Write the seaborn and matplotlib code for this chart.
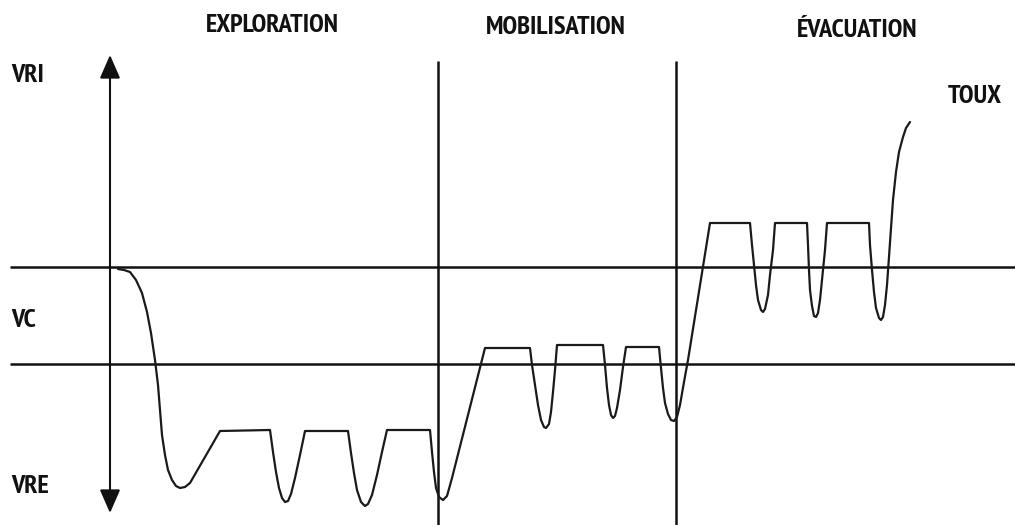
import matplotlib
matplotlib.use("Agg")
import matplotlib.pyplot as plt
import seaborn as sns
import pandas as pd

# ---- data (diagram coordinates, y grows downward) ----
curve_x = [118, 124, 130, 136, 142, 147, 151, 155, 158, 160, 162, 165, 168, 172, 176, 180, 185, 190, 220,
           270, 273, 276, 279, 282, 285, 288, 291, 295, 300, 305,
           348, 351, 354, 357, 361, 365, 368, 372, 377, 382, 387,
           430, 432, 434, 436, 439, 443, 447, 452, 485,
           530, 532, 535, 538, 541, 544, 546, 549, 551, 553, 555, 557,
           603, 605, 607, 609, 611, 613, 615, 617, 620, 623, 626,
           659, 661, 663, 665, 668, 671, 674, 677, 680, 684, 688, 710,
           750, 752, 754, 756, 758, 761, 763, 765, 768, 770, 773, 775,
           807, 808, 809, 810, 812, 814, 816, 818, 820, 822, 825, 827,
           869, 870, 872, 874, 876, 879, 881, 883, 885, 887, 889, 891, 893, 896, 899, 903, 906, 910]
curve_y = [269, 270, 272, 280, 293, 312, 333, 360, 385, 410, 435, 455, 470, 480, 486, 488, 487, 483, 431,
           430, 452, 472, 488, 498, 502, 501, 494, 478, 455, 431,
           431, 453, 473, 490, 502, 506, 504, 495, 475, 452, 430,
           430, 452, 472, 488, 497, 500, 496, 478, 348,
           348, 365, 385, 405, 420, 427, 428, 424, 412, 392, 370, 345,
           345, 365, 388, 405, 415, 418, 416, 408, 390, 367, 347,
           347, 368, 388, 403, 414, 420, 421, 417, 405, 382, 360, 223,
           223, 245, 265, 285, 300, 310, 312, 309, 295, 275, 250, 223,
           223, 245, 270, 290, 306, 316, 317, 313, 300, 280, 250, 223,
           223, 245, 270, 292, 308, 318, 320, 317, 305, 285, 257, 228, 200, 172, 152, 137, 128, 122]

level_lines_y = [267, 364]           # VC limits
phase_lines_x = [438, 676]           # phase separators
phase_labels = ["EXPLORATION", "MOBILISATION", "ÉVACUATION"]
phase_label_x = [272, 556, 857]
phase_label_y = [32, 34, 37]
volume_labels = ["VRI", "VC", "VRE"]
volume_label_y = [82, 327, 493]

sns.set_theme(style="white")
plt.rcParams['font.family'] = ['PT Sans Narrow', 'Fira Sans Condensed', 'Asap Condensed',
                               'Archivo Narrow', 'DejaVu Sans']

fig = plt.figure(figsize=(10.15, 5.25), dpi=100)
fig.patch.set_facecolor("white")
ax = fig.add_axes([0, 0, 1, 1])

# horizontal level lines
for y in level_lines_y:
    ax.plot([10, 1015], [y, y], color="#111111", lw=1.8, solid_capstyle="butt")
# vertical phase separators
for x in phase_lines_x:
    ax.plot([x, x], [61, 525], color="#111111", lw=1.8, solid_capstyle="butt")

# double arrow (volume axis)
ax.annotate("", xy=(110, 55), xytext=(110, 513),
            arrowprops=dict(arrowstyle="<|-|>,head_length=0.8,head_width=0.35",
                            lw=1.5, color="#111111", mutation_scale=18,
                            shrinkA=0, shrinkB=0))

# breathing curve
df = pd.DataFrame({"x": curve_x, "y": curve_y})
sns.lineplot(data=df, x="x", y="y", sort=False, estimator=None,
             color="#1a1a1a", lw=1.6, ax=ax)
ax.set_xlim(0, 1015)
ax.set_ylim(525, 0)
ax.axis("off")

fs = 19
fw = "semibold"
for lab, x, y in zip(phase_labels, phase_label_x, phase_label_y):
    ax.text(x, y, lab, ha="center", va="baseline", fontsize=fs, fontweight=fw, color="#111111")
for lab, y in zip(volume_labels, volume_label_y):
    ax.text(11, y, lab, ha="left", va="baseline", fontsize=fs, fontweight=fw, color="#111111")
ax.text(948, 103, "TOUX", ha="left", va="baseline", fontsize=fs, fontweight=fw, color="#111111")

fig.savefig("out.png", dpi=100, facecolor="white")
